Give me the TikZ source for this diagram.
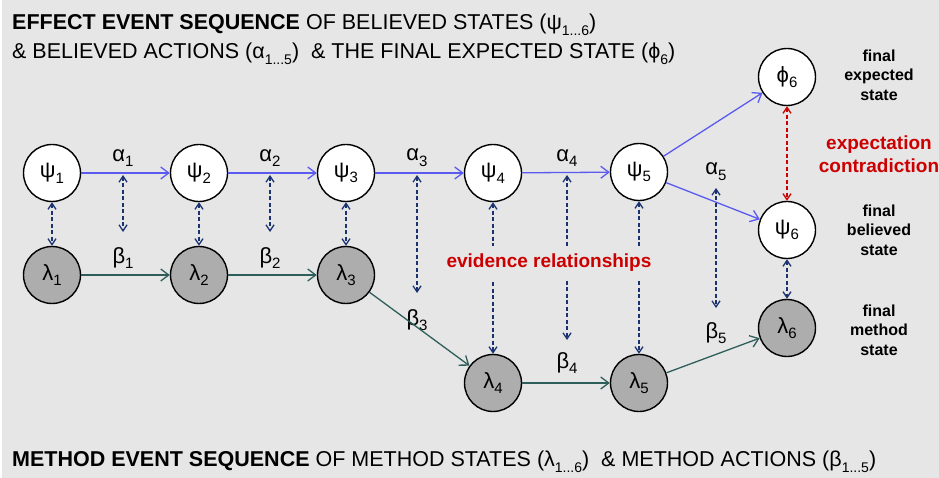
\documentclass[tikz,border=0pt]{standalone}
\usepackage{fontspec}
\setmainfont{Liberation Sans}
\usetikzlibrary{arrows.meta}
\definecolor{bgc}{HTML}{E6E6E6}
\definecolor{bluec}{HTML}{5A5AF0}
\definecolor{tealc}{HTML}{2E5E5A}
\definecolor{navyc}{HTML}{1A3370}
\definecolor{redc}{HTML}{CC0000}
\definecolor{grayc}{HTML}{ADADAD}
\newcommand{\gsym}[2]{{\fontsize{22}{24}\selectfont #1\raisebox{-0.26em}{\fontsize{15}{15}\selectfont #2}}}
\newcommand{\tsub}[1]{\raisebox{-0.3em}{\fontsize{14}{14}\selectfont #1}}
\begin{document}
\begin{tikzpicture}[x=1pt,y=-1pt,
  bstate/.style={circle,draw=black,line width=1.4pt,fill=white,minimum size=57pt,inner sep=0pt},
  mstate/.style={circle,draw=black,line width=1.4pt,fill=grayc,minimum size=57pt,inner sep=0pt},
  lbl/.style={inner sep=0pt},
  barrow/.style={draw=bluec,line width=1.3pt,-{Straight Barb[length=8pt,width=12pt,line width=1.3pt]}},
  tarrow/.style={draw=tealc,line width=1.3pt,-{Straight Barb[length=8pt,width=12pt,line width=1.3pt]}},
  evid/.style={draw=navyc,line width=1.3pt,dash pattern=on 4pt off 2.5pt,{Straight Barb[length=6pt,width=8pt,line width=1.3pt]}-{Straight Barb[length=6pt,width=8pt,line width=1.3pt]}},
  contra/.style={evid,draw=redc},
  side/.style={font=\fontsize{16}{19.5}\selectfont\bfseries,align=center,inner sep=0pt},
  redtxt/.style={font=\fontsize{19}{23}\selectfont\bfseries,text=redc,align=center,inner sep=0pt},
  ttl/.style={anchor=west,inner sep=0pt,font=\fontsize{21.5}{23}\selectfont}
]
\fill[white] (0,0) rectangle (939,478);
\fill[bgc] (2,0) rectangle (939,478);
\useasboundingbox (0,0) rectangle (939,478);

% titles
\node[ttl] (t1) at (12,25) {\textbf{EFFECT EVENT SEQUENCE} OF BELIEVED STATES (ψ\tsub{1...6})};
\node[ttl] (t2) at (12,54) {\& BELIEVED ACTIONS (α\tsub{1...5})\ \ \& THE FINAL EXPECTED STATE (ϕ\tsub{6})};
\node[ttl] (t3) at (12,462) {\textbf{METHOD EVENT SEQUENCE} OF METHOD STATES (λ\tsub{1...6})\ \ \& METHOD ACTIONS (β\tsub{1...5})};

% states
\node[bstate] (p1) at (52,173) {\gsym{ψ}{1}};
\node[bstate] (p2) at (199,173) {\gsym{ψ}{2}};
\node[bstate] (p3) at (346,173) {\gsym{ψ}{3}};
\node[bstate] (p4) at (493,173) {\gsym{ψ}{4}};
\node[bstate] (p5) at (639,172) {\gsym{ψ}{5}};
\node[bstate] (f6) at (787,77) {\gsym{ϕ}{6}};
\node[bstate] (p6) at (787,230) {\gsym{ψ}{6}};
\node[mstate] (l1) at (52,275) {\gsym{λ}{1}};
\node[mstate] (l2) at (199,275) {\gsym{λ}{2}};
\node[mstate] (l3) at (346,275) {\gsym{λ}{3}};
\node[mstate] (l4) at (493,383) {\gsym{λ}{4}};
\node[mstate] (l5) at (639,383) {\gsym{λ}{5}};
\node[mstate] (l6) at (787,328) {\gsym{λ}{6}};

% action labels
\node[lbl] (a1) at (123,158) {\gsym{α}{1}};
\node[lbl] (a2) at (270,158) {\gsym{α}{2}};
\node[lbl] (a3) at (417,158) {\gsym{α}{3}};
\node[lbl] (a4) at (567,158) {\gsym{α}{4}};
\node[lbl] (a5) at (716,172) {\gsym{α}{5}};
\node[lbl] (b1) at (123,258) {\gsym{β}{1}};
\node[lbl] (b2) at (270,258) {\gsym{β}{2}};
\node[lbl] (b3) at (417,320) {\gsym{β}{3}};
\node[lbl] (b4) at (567,363) {\gsym{β}{4}};
\node[lbl] (b5) at (716,333) {\gsym{β}{5}};

% action arrow end points
\coordinate (a1t) at (123,175); \coordinate (a1b) at (123,232);
\coordinate (a2t) at (270,175); \coordinate (a2b) at (270,232);
\coordinate (a3t) at (417,175); \coordinate (a3b) at (417,293);
\coordinate (a4t) at (567,175); \coordinate (a4b) at (567,340);
\coordinate (a5t) at (716,188); \coordinate (a5b) at (716,308);

% effect sequence
\draw[barrow] (p1) -- (p2);
\draw[barrow] (p2) -- (p3);
\draw[barrow] (p3) -- (p4);
\draw[barrow] (p4) -- (p5);
\draw[barrow] (p5) -- (f6);
\draw[barrow] (p5) -- (p6);

% method sequence
\draw[tarrow] (l1) -- (l2);
\draw[tarrow] (l2) -- (l3);
\draw[tarrow] (l3) -- (l4);
\draw[tarrow] (l4) -- (l5);
\draw[tarrow] (l5) -- (l6);

% evidence relationships
\draw[evid] (p1) -- (l1);
\draw[evid] (p2) -- (l2);
\draw[evid] (p3) -- (l3);
\draw[evid] (p4) -- (l4);
\draw[evid] (p5) -- (l5);
\draw[evid] (p6) -- (l6);
\draw[evid] (a1t) -- (a1b);
\draw[evid] (a2t) -- (a2b);
\draw[evid] (a3t) -- (a3b);
\draw[evid] (a4t) -- (a4b);
\draw[evid] (a5t) -- (a5b);
\draw[contra] (f6) -- (p6);

\node[redtxt,fill=bgc,inner xsep=2pt,inner ysep=8pt] (ev) at (549,263) {evidence relationships};
\node[redtxt] (ec) at (879,154) {expectation\\contradiction};

\node[side] (s1) at (879,75) {final\\expected\\state};
\node[side] (s2) at (879,230) {final\\believed\\state};
\node[side] (s3) at (879,330) {final\\method\\state};
\end{tikzpicture}
\end{document}
